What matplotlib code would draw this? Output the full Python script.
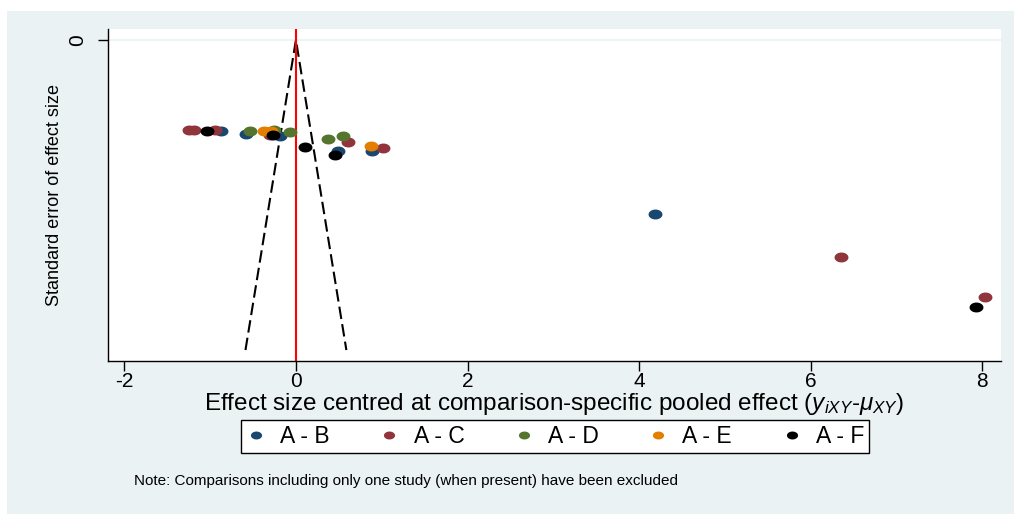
import matplotlib
matplotlib.use("Agg")
import matplotlib.pyplot as plt
import numpy as np
from matplotlib.patches import Rectangle
from matplotlib.path import Path

matplotlib.rcParams.update({
    'font.family': ['Liberation Sans', 'DejaVu Sans'],
    'mathtext.fontset': 'custom',
    'mathtext.rm': 'Liberation Sans',
    'mathtext.it': 'Liberation Sans:italic',
    'axes.unicode_minus': False,
})

# centred effect sizes and their standard errors, one pair of lists per comparison
ab_x = [-0.87, -0.58, -0.19, 0.49, 0.89, 4.18]
ab_se = [0.088, 0.091, 0.093, 0.107, 0.107, 0.168]
ac_x = [-1.25, -1.19, -0.94, -0.30, 0.61, 1.02, 6.35, 8.03]
ac_se = [0.087, 0.087, 0.087, 0.092, 0.099, 0.105, 0.210, 0.249]
ad_x = [-0.53, -0.25, -0.07, 0.37, 0.55]
ad_se = [0.088, 0.087, 0.089, 0.096, 0.093]
ae_x = [-0.37, -0.29, 0.88]
ae_se = [0.088, 0.088, 0.103]
af_x = [-1.04, -0.27, 0.11, 0.46, 7.92]
af_se = [0.088, 0.092, 0.104, 0.111, 0.258]

labels = ['A - B', 'A - C', 'A - D', 'A - E', 'A - F']
colors = ['#1A476F', '#90353B', '#55752F', '#E37E00', '#000000']
se_max = 0.30

W, H = 1014, 514
fig = plt.figure(figsize=(W / 100, H / 100), dpi=100)
fig.patch.set_facecolor('white')
fig.add_artist(Rectangle((7 / W, 0), 1 - 7 / W, 1 - 11 / H,
                         transform=fig.transFigure, facecolor='#EAF2F3',
                         edgecolor='none', zorder=-10))

ax = fig.add_axes([108 / W, 1 - 361 / H, (1001 - 108) / W, (361 - 29) / H])
ax.set_facecolor('white')

# slightly wide oval marker
t = np.linspace(0, 2 * np.pi, 64)
oval = Path(np.column_stack([1.4 * np.cos(t), np.sin(t)]), closed=True)

handles = []
groups = [(ab_x, ab_se), (ac_x, ac_se), (ad_x, ad_se), (ae_x, ae_se), (af_x, af_se)]
for (xs, ses), lab, col in zip(groups, labels, colors):
    h, = ax.plot(xs, ses, linestyle='none', marker=oval, markersize=10,
                 color=col, markeredgewidth=0, label=lab, zorder=3)
    handles.append(h)

# pseudo 95% confidence limits
ax.plot([-1.96 * se_max, 0, 1.96 * se_max], [se_max, 0, se_max], color='black',
        linewidth=1.5, linestyle=(0, (6, 2.5)), zorder=2)
ax.axvline(0, color='red', linewidth=1.5, zorder=2)

ax.set_xlim(-2.19, 8.217)
ax.set_ylim(0.3106, -0.0106)
ax.set_xticks([-2, 0, 2, 4, 6, 8])
ax.set_yticks([0])
ax.yaxis.grid(True, color='#EAF2F3', linewidth=1.2)
ax.set_axisbelow(True)

for side in ['top', 'right']:
    ax.spines[side].set_visible(False)
for side in ['left', 'bottom']:
    ax.spines[side].set_linewidth(1.0)

ax.tick_params(axis='both', length=7, width=1.0, labelsize=15, direction='out')
ax.tick_params(axis='x', pad=1)
ax.tick_params(axis='y', pad=8)
for lbl in ax.get_yticklabels():
    lbl.set_rotation(90)
    lbl.set_va('center')

ax.set_xlabel(r'Effect size centred at comparison-specific pooled effect ($y_{iXY}$-$\mu_{XY}$)',
              fontsize=17.5, labelpad=0)
ax.set_ylabel('Standard error of effect size', fontsize=13, labelpad=4)

leg = fig.legend(handles=handles, labels=labels, loc='center',
                 bbox_to_anchor=(555 / W, 1 - 436.5 / H), ncol=5, fontsize=16.5,
                 frameon=True, fancybox=False, edgecolor='black', framealpha=1,
                 markerscale=0.8, handlelength=0.9, handletextpad=0.6,
                 columnspacing=2.15, borderpad=0.2)
leg.get_frame().set_linewidth(1.0)

fig.text(134 / W, 1 - 481 / H,
         'Note: Comparisons including only one study (when present) have been excluded',
         fontsize=11, va='center', ha='left')

fig.savefig('out.png', dpi=100)
